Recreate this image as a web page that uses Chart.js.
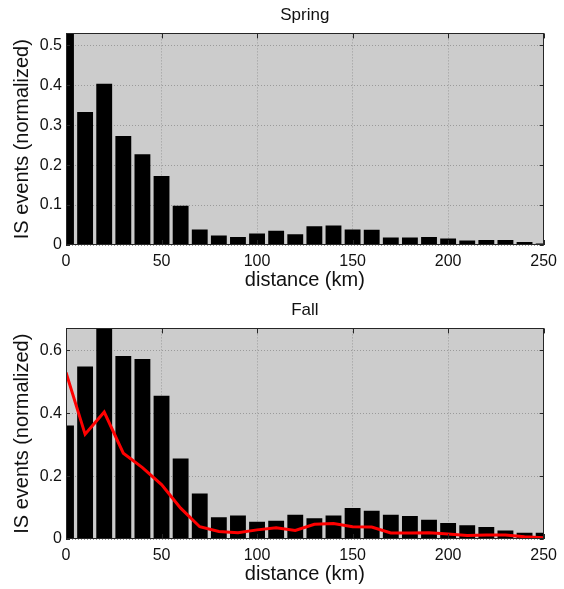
<!DOCTYPE html>
<html>
<head>
<meta charset="utf-8">
<script src="https://cdn.jsdelivr.net/npm/chart.js@4.4.1/dist/chart.umd.min.js"></script>
<style>
  body { margin: 0; background: #ffffff; }
  canvas { display: block; }
</style>
</head>
<body>
<canvas id="springChart" width="564" height="295"></canvas>
<canvas id="fallChart" width="564" height="294"></canvas>
<script>
// distance bins (km) and normalized event counts
const distance = [0, 10, 20, 30, 40, 50, 60, 70, 80, 90, 100, 110, 120,
                  130, 140, 150, 160, 170, 180, 190, 200, 210, 220, 230, 240, 250];
const spring = [0.53, 0.333, 0.404, 0.273, 0.227, 0.173, 0.098, 0.039, 0.024, 0.020, 0.029, 0.036, 0.027,
                0.047, 0.049, 0.039, 0.038, 0.019, 0.019, 0.020, 0.016, 0.011, 0.0125, 0.0125, 0.0075, 0.004];
const fall = [0.361, 0.549, 0.67, 0.582, 0.573, 0.456, 0.256, 0.145, 0.069, 0.075, 0.055, 0.058, 0.077,
              0.066, 0.075, 0.099, 0.090, 0.077, 0.073, 0.061, 0.051, 0.044, 0.038, 0.027, 0.020, 0.020];

const xTicks = [0, 50, 100, 150, 200, 250];
const springTicks = [0, 0.1, 0.2, 0.3, 0.4, 0.5];
const fallTicks = [0, 0.2, 0.4, 0.6];

const FONT = "'Liberation Sans', Arial, sans-serif";
Chart.defaults.font.family = FONT;
Chart.defaults.color = '#111111';

// grey plot background, dark box and inward tick marks like the original
const axesBox = {
    id: 'axesBox',
    beforeDraw(chart) {
        const { ctx, chartArea: a } = chart;
        ctx.save();
        ctx.fillStyle = '#cccccc';
        ctx.fillRect(a.left, a.top, a.width, a.height);
        ctx.restore();
    },
    afterDraw(chart) {
        const { ctx, chartArea: a, scales } = chart;
        ctx.save();
        ctx.strokeStyle = '#262626';
        ctx.lineWidth = 1;
        ctx.beginPath();
        scales.x.ticks.forEach(t => {
            const px = Math.round(scales.x.getPixelForValue(t.value)) + 0.5;
            ctx.moveTo(px, a.top); ctx.lineTo(px, a.top + 5);
            ctx.moveTo(px, a.bottom); ctx.lineTo(px, a.bottom - 5);
        });
        scales.y.ticks.forEach(t => {
            const py = Math.round(scales.y.getPixelForValue(t.value)) + 0.5;
            ctx.moveTo(a.left, py); ctx.lineTo(a.left + 4, py);
            ctx.moveTo(a.right, py); ctx.lineTo(a.right - 4, py);
        });
        ctx.stroke();
        ctx.strokeRect(Math.round(a.left) + 0.5, Math.round(a.top) + 0.5,
                       Math.round(a.width) - 1, Math.round(a.height) - 1);
        ctx.restore();
    }
};

function createPanel(id, title, values, yMax, yTicks, overlay) {
    const ctx = document.getElementById(id).getContext('2d');

    const datasets = [];
    if (overlay) {
        datasets.push({
            type: 'line',
            data: distance.map((d, i) => ({ x: d, y: overlay[i] })),
            borderColor: '#ff0000',
            borderWidth: 3,
            pointRadius: 0,
            tension: 0,
            order: 0
        });
    }
    datasets.push({
        type: 'bar',
        data: distance.map((d, i) => ({ x: d, y: values[i] })),
        backgroundColor: '#000000',
        borderWidth: 0,
        barPercentage: 0.83,
        categoryPercentage: 1,
        order: 1
    });

    return new Chart(ctx, {
        type: 'bar',
        data: { datasets: datasets },
        options: {
            responsive: false,
            animation: false,
            layout: { padding: { top: 0, right: 17, bottom: 0, left: 0 } },
            plugins: {
                legend: { display: false },
                tooltip: { enabled: false },
                title: {
                    display: true,
                    text: title,
                    fullSize: false,
                    color: '#111111',
                    font: { size: 17, weight: 'normal' },
                    padding: { top: 5, bottom: 8 }
                }
            },
            scales: {
                x: {
                    type: 'linear',
                    min: 0,
                    max: 250,
                    offset: false,
                    afterBuildTicks: s => { s.ticks = xTicks.map(v => ({ value: v })); },
                    afterFit: s => { s.height = 50; },
                    grid: { offset: false, color: '#9a9a9a', drawTicks: false },
                    border: { display: false, dash: [1, 2] },
                    ticks: { font: { size: 16 }, padding: 7, maxRotation: 0 },
                    title: {
                        display: true,
                        text: 'distance (km)',
                        font: { size: 20 },
                        padding: { top: 0, bottom: 3 }
                    }
                },
                y: {
                    min: 0,
                    max: yMax,
                    afterBuildTicks: s => { s.ticks = yTicks.map(v => ({ value: v })); },
                    afterFit: s => { s.width = 66; },
                    grid: { color: '#9a9a9a', drawTicks: false },
                    border: { display: false, dash: [1, 2] },
                    ticks: { font: { size: 16 }, padding: 4, callback: v => String(v) },
                    title: {
                        display: true,
                        text: 'IS events (normalized)',
                        font: { size: 20 },
                        padding: { top: 10, bottom: 0 }
                    }
                }
            }
        },
        plugins: [axesBox]
    });
}

createPanel('springChart', 'Spring', spring, 0.53, springTicks, null);
createPanel('fallChart', 'Fall', fall, 0.67, fallTicks, spring);
</script>
</body>
</html>
